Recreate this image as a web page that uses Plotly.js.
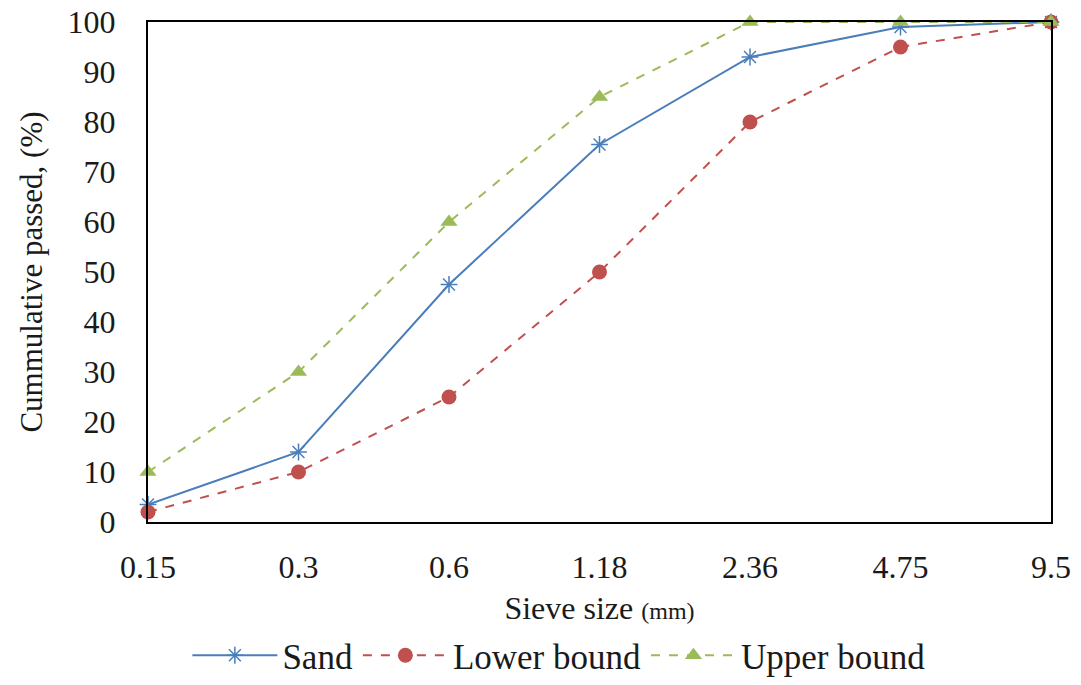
<!DOCTYPE html>
<html><head><meta charset="utf-8">
<script src="https://cdn.plot.ly/plotly-3.0.1.min.js"></script>
<style>html,body{margin:0;padding:0;background:#fff}#chart{width:1081px;height:685px}</style>
</head><body><div id="chart"></div>
<script>
const sieveSizes = ["0.15", "0.3", "0.6", "1.18", "2.36", "4.75", "9.5"];
const sand = [3.5, 14, 47.5, 75.5, 93, 99, 100];
const lowerBound = [2, 10, 25, 50, 80, 95, 100];
const upperBound = [10, 30, 60, 85, 100, 100, 100];
const yTicks = [0,10,20,30,40,50,60,70,80,90,100];

const idx = sieveSizes.map((_, i) => i);
const font = "Liberation Serif";
const txt = "#1a1a1a";

const traces = [
  {x: idx, y: sand, name: "Sand", mode: "lines+markers", type: "scatter",
   line: {color: "#4a7ebb", width: 2},
   marker: {symbol: "asterisk-open", size: 14, color: "#4a7ebb", line: {color: "#4a7ebb", width: 1.5}},
   cliponaxis: false},
  {x: idx, y: lowerBound, name: "Lower bound", mode: "lines+markers", type: "scatter",
   line: {color: "#c0504d", width: 2, dash: "dash"},
   marker: {symbol: "circle", size: 15, color: "#c0504d"},
   cliponaxis: false},
  {x: idx, y: upperBound, name: "Upper bound", mode: "lines+markers", type: "scatter",
   line: {color: "#9bbb59", width: 2, dash: "dash"},
   marker: {symbol: "triangle-up", size: 15, color: "#9bbb59"},
   cliponaxis: false}
];

const layout = {
  width: 1081, height: 685,
  margin: {l: 148, r: 30, t: 22, b: 163},
  paper_bgcolor: "#fff", plot_bgcolor: "#fff",
  font: {family: font, color: txt, size: 32},
  showlegend: true,
  legend: {orientation: "h", xref: "container", yref: "container", x: 0.517, xanchor: "center", y: 0.0, yanchor: "bottom",
           font: {family: font, size: 35, color: txt}, itemwidth: 85},
  xaxis: {
    range: [0, 6], tickmode: "array", tickvals: idx, ticktext: sieveSizes, automargin: false,
    showgrid: false, zeroline: false, showline: true, linecolor: "#000", linewidth: 2, mirror: true,
    ticks: "outside", ticklen: 16, tickcolor: "rgba(0,0,0,0)",
    tickfont: {family: font, size: 32, color: txt},
    title: {text: "Sieve size <span style='font-size:24px'>(mm)</span>", font: {family: font, size: 32, color: txt}, standoff: 22}
  },
  yaxis: {
    range: [0, 100], tickmode: "array", tickvals: yTicks, automargin: false,
    showgrid: false, zeroline: false, showline: true, linecolor: "#000", linewidth: 2, mirror: true,
    ticks: "outside", ticklen: 24, tickcolor: "rgba(0,0,0,0)",
    tickfont: {family: font, size: 32, color: txt},
    title: {text: "Cummulative passed, (%)", font: {family: font, size: 31, color: txt}, standoff: 16}
  }
};

Plotly.newPlot("chart", traces, layout, {displayModeBar: false});
</script></body></html>
